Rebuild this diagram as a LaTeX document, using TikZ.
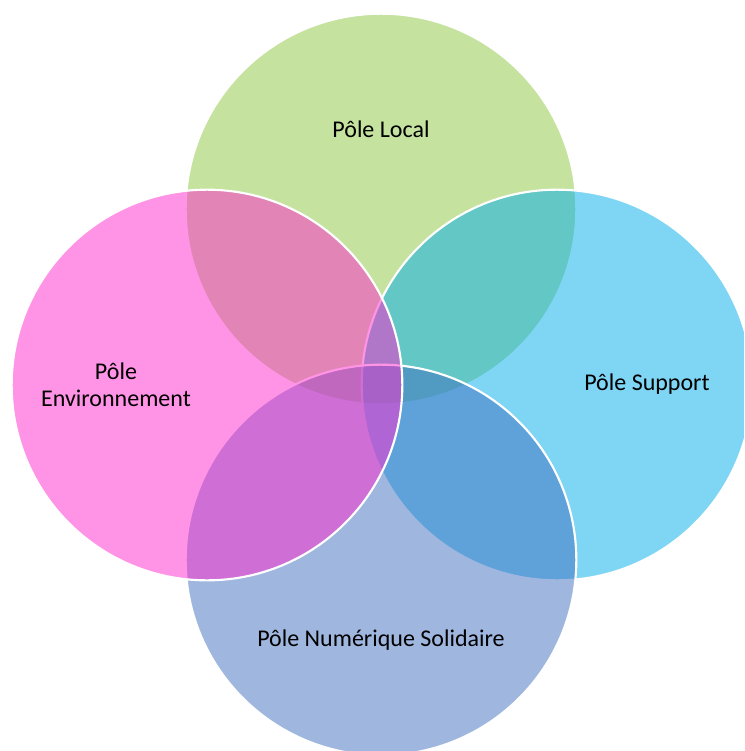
\documentclass[tikz,border=0pt]{standalone}
\usepackage{fontspec}
\setmainfont{Carlito}
\definecolor{localgreen}{RGB}{141,199,65}
\definecolor{envpink}{RGB}{255,41,205}
\definecolor{supportblue}{RGB}{0,173,235}
\definecolor{numblue}{RGB}{65,113,193}
\begin{document}
\begin{tikzpicture}[x=0.75pt, y=-0.75pt,
    pole/.style={circle, draw=white, line width=1.6pt, fill opacity=0.5, draw opacity=1, minimum size=293pt, inner sep=0pt},
    label/.style={align=center, font=\fontsize{18}{20.5}\selectfont, text=black}
]
\clip (0,0) rectangle (744,751);
\fill[white] (0,0) rectangle (744,751);
% circles, back to front
\node[pole, fill=localgreen] at (381,209) (local) {};
\node[pole, fill=supportblue] at (557,385) (support) {};
\node[pole, fill=numblue] at (381,560) (numerique) {};
\node[pole, fill=envpink] at (207,385) (env) {};

% texts
\node[label] at (381,129) (localtxt) {Pôle Local};
\node[label] at (116,385) (envtxt) {Pôle\\Environnement};
\node[label] at (647,384) (supporttxt) {Pôle Support};
\node[label] at (381,640) (numtxt) {Pôle Numérique Solidaire};
\end{tikzpicture}
\end{document}
